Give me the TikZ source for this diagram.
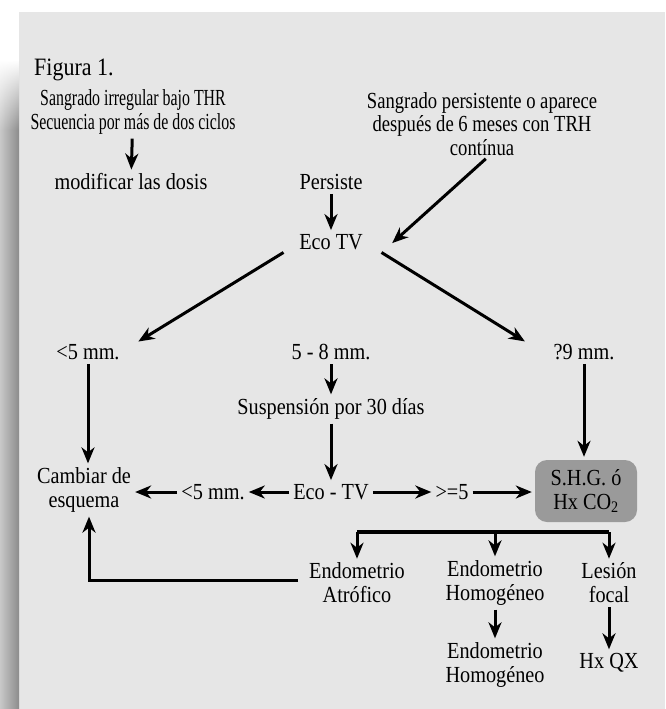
\documentclass[tikz,border=0pt]{standalone}
\usepackage{fontspec}
\setmainfont[FakeStretch=0.88]{Liberation Serif}
\newfontfamily\narrowserif[FakeStretch=0.69]{Liberation Serif}
\newfontfamily\slimserif[FakeStretch=0.81]{Liberation Serif}
\usepackage{tikz}
\usetikzlibrary{arrows.meta,fadings}
\definecolor{panel_gray}{HTML}{E6E6E6}
\definecolor{box_gray}{HTML}{9A9A9A}
\definecolor{shadow_light}{HTML}{C8C8C8}
\definecolor{shadow_dark}{HTML}{8C8C8C}

\begin{document}
\begin{tikzpicture}[x=1pt,y=-1pt,
    txt/.style={align=center, inner sep=1pt, font=\fontsize{23}{24}\selectfont},
    narrowtxt/.style={txt, font=\narrowserif\fontsize{23}{24}\selectfont},
    slimtxt/.style={txt, font=\slimserif\fontsize{23}{23.5}\selectfont},
    greybox/.style={txt, fill=box_gray, rounded corners=12pt, minimum width=102pt, minimum height=62pt},
    arr/.style={line width=3pt, -{Stealth[length=16pt,width=13pt,inset=5pt]}, shorten <=3pt, shorten >=3pt},
    bar/.style={line width=3.2pt}]
    \useasboundingbox (0,0) rectangle (665,709);

    % panel and its shadow
    \fill[panel_gray] (19,12) rectangle (665,709);
    \shade[left color=shadow_light, right color=shadow_dark] (0,130) rectangle (19,709);
    \shade[left color=shadow_light, right color=shadow_dark, path fading=north] (0,60) rectangle (19,130);

    \node[txt, anchor=west, font=\fontsize{25}{26}\selectfont] (fig) at (33,70) {Figura 1.};

    % top entries
    \node[narrowtxt] (thr) at (133,112) {Sangrado irregular bajo THR\\Secuencia por más de dos ciclos};
    \node[txt] (dosis) at (131,182) {modificar las dosis};
    \node[slimtxt] (trh) at (482,124) {Sangrado persistente o aparece\\después de 6 meses con TRH\\contínua};
    \node[txt] (persiste) at (331,182) {Persiste};
    \node[txt] (ecotv) at (331,242) {Eco TV};

    \draw[arr] (thr) -- (dosis);
    \draw[arr] (persiste) -- (ecotv);
    \draw[arr] ([xshift=6pt]trh.south) -- ([shift={(26,12)}]ecotv.north east);

    % thickness rows
    \node[txt] (menor) at (88,352) {<5 mm.};
    \node[txt] (medio) at (331,352) {5 - 8 mm.};
    \node[txt] (mayor) at (584,352) {?9 mm.};
    \node[txt] (susp) at (331,409) {Suspensión por 30 días};

    \draw[arr] ([xshift=-12pt]ecotv.south west) -- ([xshift=15pt]menor.north east);
    \draw[arr] ([xshift=15pt]ecotv.south east) -- ([xshift=-25pt]mayor.north west);
    \draw[arr] (medio) -- (susp);

    \node[txt] (eco2) at (331,492) {Eco - TV};
    \node[txt] (cambiar) at (84,490) {Cambiar de\\esquema};
    \node[txt] (menor2) at (213,492) {<5 mm.};
    \node[txt] (mayor2) at (452,492) {>=5};
    \node[greybox] (shg) at (586,491) {S.H.G. ó\\Hx CO\textsubscript{2}};

    \draw[arr] (susp) -- (susp |- eco2.north);
    \draw[arr] (menor) -- (menor |- cambiar.north);
    \draw[arr] (mayor) -- (mayor |- shg.north);
    \draw[arr] (eco2) -- (menor2);
    \draw[arr] (menor2.west) -- (menor2.west -| cambiar.east);
    \draw[arr] (eco2) -- (mayor2);
    \draw[arr] (mayor2.east) -- (mayor2.east -| shg.west);

    % results
    \node[txt] (atrof) at (357,583) {Endometrio\\Atrófico};
    \node[txt] (homog) at (495,583) {Endometrio\\Homogéneo};
    \node[txt] (lesion) at (609,583) {Lesión\\focal};
    \node[txt] (homog2) at (495,665) {Endometrio\\Homogéneo};
    \node[txt] (hxqx) at (609,663) {Hx QX};

    \coordinate (split) at (0,532);
    \draw[bar] (atrof |- split) -- (lesion |- split);
    \draw[arr, shorten <=0pt] (atrof |- split) -- (atrof.north);
    \draw[arr, shorten <=0pt] (homog |- split) -- (homog.north);
    \draw[arr, shorten <=0pt] (lesion |- split) -- (lesion.north);
    \draw[arr, shorten <=10pt] ([yshift=3pt]atrof.west) -| ([xshift=5pt]cambiar.south);
    \draw[arr] (homog) -- (homog2);
    \draw[arr] (lesion) -- (hxqx);
\end{tikzpicture}
\end{document}
